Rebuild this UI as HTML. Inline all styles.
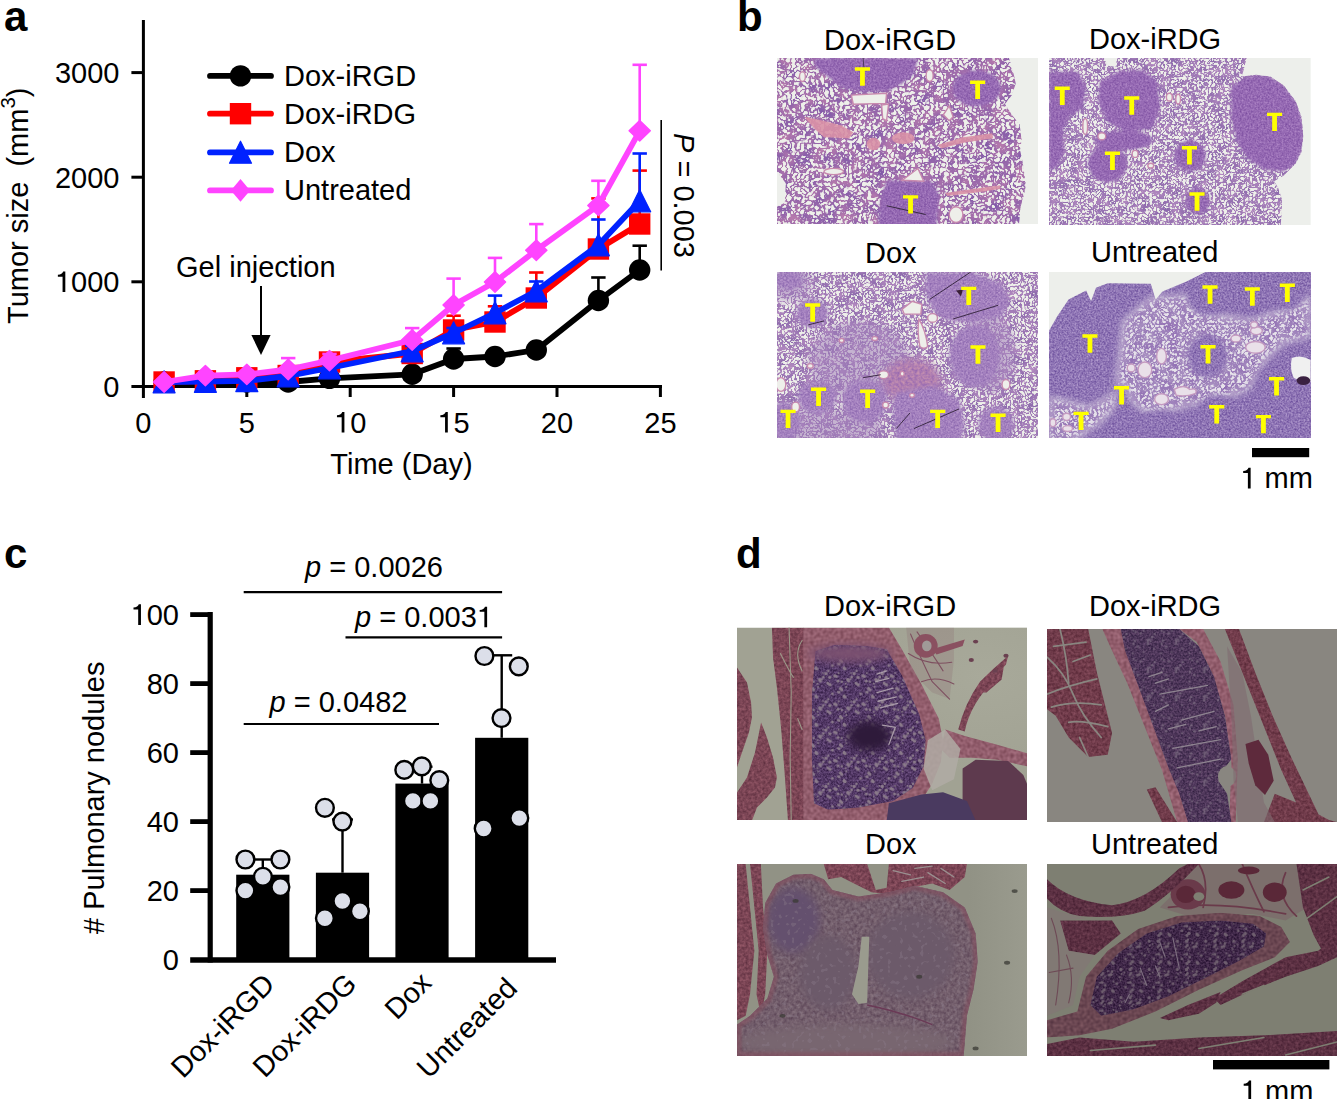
<!DOCTYPE html>
<html><head><meta charset="utf-8"><style>
html,body{margin:0;padding:0;background:#fff;width:1337px;height:1099px;overflow:hidden}
svg{display:block}
.t{font-family:"Liberation Sans", sans-serif;font-size:29px;fill:#000}
.L{font-family:"Liberation Sans", sans-serif;font-size:42px;font-weight:bold;fill:#000}
.h1{fill-opacity:0}
</style></head><body>
<svg width="1337" height="1099" viewBox="0 0 1337 1099">
<defs>
<filter id="alvb" x="0" y="0" width="100%" height="100%" color-interpolation-filters="sRGB">
<feTurbulence type="fractalNoise" baseFrequency="0.0411" numOctaves="2" seed="4" result="n"/>
<feComponentTransfer in="n" result="r"><feFuncR type="table" tableValues="0 0 0 0 0 0 0.15 1 1 1 0.15 0 0 0 0 0 0"/></feComponentTransfer>
<feTurbulence type="fractalNoise" baseFrequency="0.0164" numOctaves="2" seed="15" result="c"/>
<feColorMatrix in="c" type="matrix" values="0.295 0 0 0 0.469 0.178 0 0 0 0.331 0.020 0 0 0 0.661 0 0 0 0 1" result="col"/>
<feColorMatrix in="r" type="matrix" values="0 0 0 0 0 0 0 0 0 0 0 0 0 0 0 1 0 0 0 0" result="al"/>
<feComposite in="col" in2="al" operator="in"/>
</filter>
<filter id="alvb2" x="0" y="0" width="100%" height="100%" color-interpolation-filters="sRGB">
<feTurbulence type="fractalNoise" baseFrequency="0.0528" numOctaves="2" seed="9" result="n"/>
<feComponentTransfer in="n" result="r"><feFuncR type="table" tableValues="0 0 0 0 0 0 0.15 1 1 1 0.15 0 0 0 0 0 0"/></feComponentTransfer>
<feTurbulence type="fractalNoise" baseFrequency="0.0211" numOctaves="2" seed="20" result="c"/>
<feColorMatrix in="c" type="matrix" values="0.238 0 0 0 0.509 0.198 0 0 0 0.380 0.118 0 0 0 0.655 0 0 0 0 1" result="col"/>
<feColorMatrix in="r" type="matrix" values="0 0 0 0 0 0 0 0 0 0 0 0 0 0 0 1 0 0 0 0" result="al"/>
<feComposite in="col" in2="al" operator="in"/>
</filter>
<filter id="alvb4" x="0" y="0" width="100%" height="100%" color-interpolation-filters="sRGB">
<feTurbulence type="fractalNoise" baseFrequency="0.0489" numOctaves="2" seed="2" result="n"/>
<feComponentTransfer in="n" result="r"><feFuncR type="table" tableValues="0 0 0 0 0 0 0.4 1 1 1 0.4 0 0 0 0 0 0"/></feComponentTransfer>
<feTurbulence type="fractalNoise" baseFrequency="0.0196" numOctaves="2" seed="13" result="c"/>
<feColorMatrix in="c" type="matrix" values="0.138 0 0 0 0.547 0.195 0 0 0 0.405 0.078 0 0 0 0.691 0 0 0 0 1" result="col"/>
<feColorMatrix in="r" type="matrix" values="0 0 0 0 0 0 0 0 0 0 0 0 0 0 0 1 0 0 0 0" result="al"/>
<feComposite in="col" in2="al" operator="in"/>
</filter>
<filter id="tumA" x="0" y="0" width="100%" height="100%" color-interpolation-filters="sRGB">
<feTurbulence type="fractalNoise" baseFrequency="0.1076" numOctaves="2" seed="3" result="n"/>
<feColorMatrix in="n" type="matrix" values="0.285 0 0 0 0.444 0.312 0 0 0 0.259 0.215 0 0 0 0.595 0 0 0 0 1"/>
</filter>
<filter id="tumB" x="0" y="0" width="100%" height="100%" color-interpolation-filters="sRGB">
<feTurbulence type="fractalNoise" baseFrequency="0.1076" numOctaves="2" seed="4" result="n"/>
<feColorMatrix in="n" type="matrix" values="0.295 0 0 0 0.491 0.315 0 0 0 0.345 0.195 0 0 0 0.647 0 0 0 0 1"/>
</filter>
<filter id="mixB" x="0" y="0" width="100%" height="100%" color-interpolation-filters="sRGB">
<feTurbulence type="fractalNoise" baseFrequency="0.0685" numOctaves="2" seed="5" result="n"/>
<feColorMatrix in="n" type="matrix" values="0.315 0 0 0 0.532 0.275 0 0 0 0.356 0.000 0 0 0 0.690 0 0 0 0 1"/>
</filter>
<filter id="tumD" x="0" y="0" width="100%" height="100%" color-interpolation-filters="sRGB">
<feTurbulence type="fractalNoise" baseFrequency="0.1076" numOctaves="2" seed="6" result="n"/>
<feColorMatrix in="n" type="matrix" values="0.413 0 0 0 0.354 0.450 0 0 0 0.234 0.295 0 0 0 0.562 0 0 0 0 1"/>
</filter>
<filter id="cartA" x="0" y="0" width="100%" height="100%" color-interpolation-filters="sRGB">
<feTurbulence type="fractalNoise" baseFrequency="0.1085" numOctaves="2" seed="5" result="n"/>
<feColorMatrix in="n" type="matrix" values="0.393 0 0 0 0.125 0.352 0 0 0 0.043 0.410 0 0 0 0.191 0 0 0 0 1"/>
</filter>
<filter id="cartB" x="0" y="0" width="100%" height="100%" color-interpolation-filters="sRGB">
<feTurbulence type="fractalNoise" baseFrequency="0.1085" numOctaves="2" seed="5" result="n"/>
<feColorMatrix in="n" type="matrix" values="0.335 0 0 0 0.135 0.275 0 0 0 0.074 0.295 0 0 0 0.202 0 0 0 0 1"/>
</filter>
<filter id="cartC" x="0" y="0" width="100%" height="100%" color-interpolation-filters="sRGB">
<feTurbulence type="fractalNoise" baseFrequency="0.1085" numOctaves="2" seed="5" result="n"/>
<feColorMatrix in="n" type="matrix" values="0.315 0 0 0 0.085 0.275 0 0 0 0.012 0.293 0 0 0 0.132 0 0 0 0 1"/>
</filter>
<filter id="cdots" x="0" y="0" width="100%" height="100%" color-interpolation-filters="sRGB">
<feTurbulence type="fractalNoise" baseFrequency="0.0521" numOctaves="1" seed="12" result="n"/>
<feColorMatrix in="n" type="matrix" values="0 0 0 0 0.557 0 0 0 0 0.494 0 0 0 0 0.549 14 0 0 0 -8.5"/>
</filter>
<filter id="cdots4" x="0" y="0" width="100%" height="100%" color-interpolation-filters="sRGB">
<feTurbulence type="fractalNoise" baseFrequency="0.0521" numOctaves="1" seed="12" result="n"/>
<feColorMatrix in="n" type="matrix" values="0 0 0 0 0.439 0 0 0 0 0.376 0 0 0 0 0.439 14 0 0 0 -8.5"/>
</filter>
<filter id="musA" x="0" y="0" width="100%" height="100%" color-interpolation-filters="sRGB">
<feTurbulence type="fractalNoise" baseFrequency="0.0759" numOctaves="2" seed="8" result="n"/>
<feColorMatrix in="n" type="matrix" values="0.293 0 0 0 0.336 0.217 0 0 0 0.162 0.215 0 0 0 0.225 0 0 0 0 1"/>
</filter>
<filter id="musB" x="0" y="0" width="100%" height="100%" color-interpolation-filters="sRGB">
<feTurbulence type="fractalNoise" baseFrequency="0.0759" numOctaves="2" seed="8" result="n"/>
<feColorMatrix in="n" type="matrix" values="0.275 0 0 0 0.302 0.218 0 0 0 0.123 0.225 0 0 0 0.179 0 0 0 0 1"/>
</filter>
<filter id="musC" x="0" y="0" width="100%" height="100%" color-interpolation-filters="sRGB">
<feTurbulence type="fractalNoise" baseFrequency="0.0759" numOctaves="2" seed="8" result="n"/>
<feColorMatrix in="n" type="matrix" values="0.255 0 0 0 0.230 0.195 0 0 0 0.090 0.195 0 0 0 0.162 0 0 0 0 1"/>
</filter>
<filter id="pinkA" x="0" y="0" width="100%" height="100%" color-interpolation-filters="sRGB">
<feTurbulence type="fractalNoise" baseFrequency="0.0651" numOctaves="1" seed="9" result="n"/>
<feColorMatrix in="n" type="matrix" values="0.272 0 0 0 0.436 0.255 0 0 0 0.238 0.262 0 0 0 0.294 0 0 0 0 1"/>
</filter>
<filter id="pinkC" x="0" y="0" width="100%" height="100%" color-interpolation-filters="sRGB">
<feTurbulence type="fractalNoise" baseFrequency="0.0651" numOctaves="1" seed="9" result="n"/>
<feColorMatrix in="n" type="matrix" values="0.235 0 0 0 0.298 0.198 0 0 0 0.176 0.178 0 0 0 0.229 0 0 0 0 1"/>
</filter>
<filter id="pinkB" x="0" y="0" width="100%" height="100%" color-interpolation-filters="sRGB">
<feTurbulence type="fractalNoise" baseFrequency="0.0651" numOctaves="2" seed="10" result="n"/>
<feColorMatrix in="n" type="matrix" values="0.235 0 0 0 0.330 0.255 0 0 0 0.238 0.218 0 0 0 0.311 0 0 0 0 1"/>
</filter>
<pattern id="pd1dots" patternUnits="userSpaceOnUse" width="130" height="130"><g fill="#8a7a8a" opacity="1.0"><circle cx="31" cy="71" r="5.5"/><circle cx="79" cy="81" r="4.3"/><circle cx="2" cy="109" r="5.0"/><circle cx="132" cy="109" r="5.0"/><circle cx="30" cy="-1" r="5.9"/><circle cx="30" cy="129" r="5.9"/><circle cx="109" cy="62" r="6.6"/><circle cx="20" cy="83" r="7.5"/><circle cx="68" cy="96" r="6.7"/><circle cx="8" cy="99" r="6.4"/><circle cx="39" cy="4" r="7.5"/><circle cx="39" cy="134" r="7.5"/><circle cx="61" cy="93" r="7.5"/><circle cx="93" cy="120" r="5.6"/><circle cx="104" cy="58" r="7.7"/><circle cx="114" cy="13" r="4.5"/><circle cx="28" cy="-4" r="5.7"/><circle cx="28" cy="126" r="5.7"/><circle cx="81" cy="39" r="6.0"/><circle cx="50" cy="46" r="6.3"/><circle cx="76" cy="118" r="6.7"/><circle cx="121" cy="111" r="8.0"/><circle cx="87" cy="21" r="7.4"/><circle cx="-5" cy="118" r="6.3"/><circle cx="125" cy="118" r="6.3"/><circle cx="93" cy="27" r="7.3"/><circle cx="75" cy="37" r="4.3"/><circle cx="111" cy="-1" r="4.4"/><circle cx="111" cy="129" r="4.4"/><circle cx="104" cy="53" r="4.6"/><circle cx="38" cy="100" r="7.5"/><circle cx="6" cy="80" r="4.2"/></g></pattern>
<pattern id="pd4dots" patternUnits="userSpaceOnUse" width="130" height="130"><g fill="#6e5e6e" opacity="1.0"><circle cx="81" cy="96" r="7.2"/><circle cx="-7" cy="96" r="7.7"/><circle cx="123" cy="96" r="7.7"/><circle cx="4" cy="61" r="7.8"/><circle cx="134" cy="61" r="7.8"/><circle cx="84" cy="117" r="4.5"/><circle cx="61" cy="32" r="6.2"/><circle cx="75" cy="2" r="4.9"/><circle cx="75" cy="132" r="4.9"/><circle cx="36" cy="119" r="7.1"/><circle cx="21" cy="104" r="4.6"/><circle cx="80" cy="16" r="4.0"/><circle cx="113" cy="27" r="4.9"/><circle cx="-2" cy="113" r="5.2"/><circle cx="128" cy="113" r="5.2"/><circle cx="-5" cy="70" r="6.7"/><circle cx="125" cy="70" r="6.7"/><circle cx="27" cy="122" r="6.8"/><circle cx="-4" cy="116" r="5.2"/><circle cx="126" cy="116" r="5.2"/><circle cx="47" cy="22" r="4.6"/><circle cx="8" cy="39" r="6.4"/><circle cx="0" cy="88" r="5.4"/><circle cx="130" cy="88" r="5.4"/><circle cx="40" cy="106" r="5.9"/><circle cx="41" cy="63" r="6.8"/><circle cx="7" cy="-3" r="4.1"/><circle cx="7" cy="127" r="4.1"/><circle cx="97" cy="110" r="4.1"/><circle cx="102" cy="48" r="6.3"/><circle cx="1" cy="6" r="4.7"/><circle cx="131" cy="6" r="4.7"/><circle cx="-6" cy="26" r="7.0"/><circle cx="124" cy="26" r="7.0"/><circle cx="121" cy="122" r="5.4"/><circle cx="46" cy="68" r="7.1"/></g></pattern>
<pattern id="pd2dots" patternUnits="userSpaceOnUse" width="130" height="130"><g fill="#7a6a80" opacity="1.0"><circle cx="42" cy="20" r="5.3"/><circle cx="9" cy="70" r="4.7"/><circle cx="8" cy="66" r="4.1"/><circle cx="56" cy="9" r="4.2"/><circle cx="55" cy="107" r="4.2"/><circle cx="29" cy="82" r="5.9"/><circle cx="75" cy="52" r="6.0"/><circle cx="6" cy="112" r="4.6"/><circle cx="19" cy="15" r="4.6"/><circle cx="106" cy="23" r="5.2"/><circle cx="83" cy="48" r="5.1"/><circle cx="8" cy="8" r="4.4"/><circle cx="88" cy="56" r="4.6"/><circle cx="76" cy="59" r="4.6"/><circle cx="103" cy="91" r="4.5"/><circle cx="75" cy="68" r="5.8"/><circle cx="95" cy="37" r="6.0"/><circle cx="15" cy="54" r="5.5"/></g></pattern>
<filter id="bl4" x="-20%" y="-20%" width="140%" height="140%"><feGaussianBlur stdDeviation="4"/></filter>
<filter id="bl8" x="-20%" y="-20%" width="140%" height="140%"><feGaussianBlur stdDeviation="8"/></filter>
<filter id="bl12" x="-30%" y="-30%" width="160%" height="160%"><feGaussianBlur stdDeviation="12"/></filter>
<filter id="bl20" x="-30%" y="-30%" width="160%" height="160%"><feGaussianBlur stdDeviation="20"/></filter>
</defs>
<clipPath id="cb1"><rect x="777" y="58" width="261" height="166"/></clipPath>
<g clip-path="url(#cb1)"><g transform="translate(777,58) scale(0.19569)"><rect x="0" y="0" width="1337" height="900" fill="#edefeb"/><clipPath id="tb1"><polygon points="0,0 1185,0 1205,60 1220,130 1200,190 1165,235 1200,290 1240,340 1250,420 1242,470 1255,530 1265,600 1272,650 1262,700 1245,760 1232,900 0,900 0,760 40,740 45,640 0,580" /></clipPath><g clip-path="url(#tb1)"><rect x="0" y="0" width="1337" height="900" fill="#eef0ea"/><rect x="0" y="0" width="1337" height="900" filter="url(#alvb)"/><polygon points="140,300 230,320 330,345 390,380 370,410 240,405 190,360"  fill="#d890a6" opacity="0.9"/><ellipse cx="493" cy="440" rx="35" ry="32"  fill="#d890a6" opacity="0.9"/><ellipse cx="645" cy="410" rx="58" ry="30"  fill="#d890a6" opacity="0.9"/><polygon points="820,445 950,405 1100,385 1105,410 960,432 840,462"  fill="#d890a6" opacity="0.9"/><polygon points="860,690 1000,670 1140,650 1140,670 1000,690 870,705"  fill="#d890a6" opacity="0.9"/><mask id="mb1" maskUnits="userSpaceOnUse" x="-50" y="-50" width="1437" height="1000"><g filter="url(#bl8)" fill="#fff"><polygon points="190,0 720,0 700,80 640,130 560,170 430,175 330,150 250,90 190,40" /><ellipse cx="1020" cy="155" rx="125" ry="92" /><polygon points="560,625 790,630 830,700 810,900 510,900 530,720" /></g></mask><rect width="1337" height="900" filter="url(#tumA)" mask="url(#mb1)"/><polygon points="380,190 560,180 555,232 390,236"  fill="#eeefea" stroke="#c88aae" stroke-width="7"/><polygon points="640,625 720,565 750,630"  fill="#eeefea" stroke="#c88aae" stroke-width="7"/><ellipse cx="290" cy="580" rx="50" ry="16"  fill="#eeefea" stroke="#c88aae" stroke-width="7"/><polygon points="850,290 880,245 900,300 880,320"  fill="#eeefea" stroke="#c88aae" stroke-width="7"/><polygon points="535,240 570,235 560,320 540,310"  fill="#eeefea" stroke="#c88aae" stroke-width="7"/><ellipse cx="780" cy="90" rx="18" ry="30"  fill="#eeefea" stroke="#c88aae" stroke-width="7"/><ellipse cx="915" cy="800" rx="35" ry="40"  fill="#eeefea" stroke="#c88aae" stroke-width="7"/><ellipse cx="130" cy="95" rx="15" ry="25"  fill="#eeefea" stroke="#c88aae" stroke-width="7"/></g><path d="M560,755 L760,800" stroke="#3a2a44" stroke-width="6" fill="none"/><path d="M440,0 L445,60" stroke="#3a2a44" stroke-width="4" fill="none"/></g></g>
<clipPath id="cb2"><rect x="1049" y="58" width="262" height="167"/></clipPath>
<g clip-path="url(#cb2)"><g transform="translate(1049,58) scale(0.19569)"><rect x="0" y="0" width="1337" height="900" fill="#edefeb"/><clipPath id="tb2"><polygon points="0,0 280,0 300,40 345,45 345,0 1010,0 995,60 985,95 1060,85 1130,95 1200,140 1260,220 1290,300 1300,400 1290,480 1260,540 1230,570 1200,600 1150,630 1170,660 1190,720 1190,780 1180,900 0,900" /></clipPath><g clip-path="url(#tb2)"><rect x="0" y="0" width="1337" height="900" fill="#eef0ea"/><rect x="0" y="0" width="1337" height="900" filter="url(#alvb2)"/><mask id="mb2" maskUnits="userSpaceOnUse" x="-50" y="-50" width="1437" height="1000"><g filter="url(#bl8)" fill="#fff"><polygon points="0,70 150,70 190,150 170,260 100,300 70,380 80,480 40,560 0,580" /><polygon points="260,120 350,70 470,60 550,110 570,250 530,360 400,380 300,330 250,220" /><ellipse cx="300" cy="540" rx="100" ry="95" /><ellipse cx="720" cy="500" rx="80" ry="80" /><ellipse cx="760" cy="730" rx="60" ry="70" /><polygon points="930,150 1000,100 1060,85 1130,95 1200,140 1260,220 1290,300 1300,400 1290,480 1260,540 1200,580 1100,570 1020,520 960,430 930,300" /><ellipse cx="380" cy="420" rx="150" ry="50" /></g></mask><rect width="1337" height="900" filter="url(#tumA)" mask="url(#mb2)"/><ellipse cx="270" cy="400" rx="20" ry="18"  fill="#eeefea" stroke="#c88aae" stroke-width="7"/><ellipse cx="440" cy="490" rx="15" ry="18"  fill="#eeefea" stroke="#c88aae" stroke-width="7"/><ellipse cx="185" cy="350" rx="12" ry="40"  fill="#eeefea" stroke="#c88aae" stroke-width="7"/><ellipse cx="615" cy="200" rx="15" ry="20"  fill="#eeefea" stroke="#c88aae" stroke-width="7"/><ellipse cx="660" cy="210" rx="12" ry="25"  fill="#eeefea" stroke="#c88aae" stroke-width="7"/><ellipse cx="520" cy="550" rx="15" ry="12"  fill="#eeefea" stroke="#c88aae" stroke-width="7"/></g></g></g>
<clipPath id="cb3"><rect x="777" y="272" width="261" height="166"/></clipPath>
<g clip-path="url(#cb3)"><g transform="translate(777,272) scale(0.19569)"><rect x="0" y="0" width="1337" height="900" fill="#eef0ea"/><rect x="0" y="0" width="1337" height="900" filter="url(#alvb2)"/><mask id="mb3h" maskUnits="userSpaceOnUse" x="-50" y="-50" width="1437" height="1000"><g filter="url(#bl20)" fill="#fff"><ellipse cx="420" cy="450" rx="260" ry="200" /><ellipse cx="60" cy="60" rx="120" ry="90" /><ellipse cx="1100" cy="420" rx="120" ry="200" /><ellipse cx="250" cy="800" rx="300" ry="100" /></g></mask><rect width="1337" height="900" fill="#a482bc" mask="url(#mb3h)" opacity="0.55"/><mask id="mb3p" maskUnits="userSpaceOnUse" x="-50" y="-50" width="1437" height="1000"><g filter="url(#bl20)" fill="#fff"><ellipse cx="690" cy="560" rx="150" ry="120" /></g></mask><rect width="1337" height="900" filter="url(#mixB)" mask="url(#mb3p)"/><mask id="mb3" maskUnits="userSpaceOnUse" x="-50" y="-50" width="1437" height="1000"><g filter="url(#bl12)" fill="#fff"><polygon points="760,0 1000,0 1150,60 1190,150 1150,230 1000,260 880,250 800,200 760,120" /><ellipse cx="1010" cy="430" rx="130" ry="160" /><ellipse cx="180" cy="210" rx="80" ry="75" /><ellipse cx="205" cy="640" rx="100" ry="85" /><ellipse cx="450" cy="660" rx="115" ry="110" /><ellipse cx="40" cy="760" rx="80" ry="100" /><polygon points="600,620 800,580 930,650 960,780 930,900 620,900 590,740" /><ellipse cx="1120" cy="780" rx="90" ry="90" /><ellipse cx="60" cy="40" rx="70" ry="50" /></g></mask><rect width="1337" height="900" filter="url(#tumB)" mask="url(#mb3)"/><polygon points="640,190 690,150 740,165 735,215 650,215"  fill="#eeefea" stroke="#c88aae" stroke-width="7"/><path d="M725,240 Q760,300 770,380 Q750,400 730,380 Q715,300 725,240Z"  fill="#eeefea" stroke="#c88aae" stroke-width="7"/><ellipse cx="795" cy="235" rx="25" ry="22"  fill="#eeefea" stroke="#c88aae" stroke-width="7"/><ellipse cx="20" cy="575" rx="25" ry="35"  fill="#eeefea" stroke="#c88aae" stroke-width="7"/><ellipse cx="1170" cy="575" rx="20" ry="25"  fill="#eeefea" stroke="#c88aae" stroke-width="7"/><ellipse cx="545" cy="525" rx="25" ry="20"  fill="#eeefea" stroke="#c88aae" stroke-width="7"/><ellipse cx="95" cy="690" rx="20" ry="25"  fill="#eeefea" stroke="#c88aae" stroke-width="7"/><ellipse cx="555" cy="680" rx="15" ry="15"  fill="#eeefea" stroke="#c88aae" stroke-width="7"/><ellipse cx="690" cy="630" rx="12" ry="10"  fill="#eeefea" stroke="#c88aae" stroke-width="7"/><ellipse cx="640" cy="520" rx="10" ry="12"  fill="#eeefea" stroke="#c88aae" stroke-width="7"/><ellipse cx="170" cy="480" rx="15" ry="12"  fill="#eeefea" stroke="#c88aae" stroke-width="7"/><ellipse cx="330" cy="350" rx="12" ry="10"  fill="#eeefea" stroke="#c88aae" stroke-width="7"/><ellipse cx="500" cy="340" rx="14" ry="10"  fill="#eeefea" stroke="#c88aae" stroke-width="7"/><path d="M780,140 L990,0" stroke="#3a2a44" stroke-width="5" fill="none"/><path d="M900,240 L1130,170" stroke="#3a2a44" stroke-width="5" fill="none"/><path d="M610,800 L680,720" stroke="#3a2a44" stroke-width="5" fill="none"/><path d="M700,800 L930,700" stroke="#3a2a44" stroke-width="5" fill="none"/><path d="M440,540 L530,525" stroke="#3a2a44" stroke-width="5" fill="none"/><path d="M160,270 L240,250" stroke="#3a2a44" stroke-width="5" fill="none"/><polygon points="915,95 950,90 940,125" fill="#3a2036"/></g></g>
<clipPath id="cb4"><rect x="1049" y="272" width="262" height="166"/></clipPath>
<g clip-path="url(#cb4)"><g transform="translate(1049,272) scale(0.19569)"><rect x="0" y="0" width="1337" height="900" filter="url(#tumD)"/><mask id="mb4l" maskUnits="userSpaceOnUse" x="-50" y="-50" width="1437" height="1000"><g filter="url(#bl20)" fill="#fff"><polygon points="380,250 520,130 700,120 760,200 1000,240 1150,210 1250,180 1337,120 1337,330 1200,360 1100,460 1060,560 980,620 850,650 650,700 500,720 420,660 380,560 300,640 200,690 100,660 0,640 0,900 60,900 250,780 330,700" /></g></mask><rect width="1337" height="900" fill="#e6e2ea" mask="url(#mb4l)"/><mask id="mb4a" maskUnits="userSpaceOnUse" x="-50" y="-50" width="1437" height="1000"><g filter="url(#bl20)"><polygon points="380,250 520,130 700,120 760,200 1000,240 1150,210 1250,180 1337,120 1337,330 1200,360 1100,460 1060,560 980,620 850,650 650,700 500,720 420,660 380,560 300,640 200,690 100,660 0,640 0,900 60,900 250,780 330,700" fill="#fff"/></g></mask><rect width="1337" height="900" filter="url(#alvb4)" mask="url(#mb4a)"/><mask id="mb4t" maskUnits="userSpaceOnUse" x="-50" y="-50" width="1437" height="1000"><g filter="url(#bl12)" fill="#fff"><ellipse cx="820" cy="130" rx="110" ry="90" /><ellipse cx="1040" cy="130" rx="90" ry="90" /><ellipse cx="1215" cy="110" rx="80" ry="80" /><ellipse cx="810" cy="430" rx="100" ry="110" /><ellipse cx="1160" cy="590" rx="110" ry="120" /><ellipse cx="860" cy="740" rx="110" ry="110" /><ellipse cx="1090" cy="780" rx="90" ry="80" /><ellipse cx="560" cy="790" rx="120" ry="80" /></g></mask><rect width="1337" height="900" filter="url(#tumD)" mask="url(#mb4t)"/><polygon points="0,0 800,0 700,50 580,100 545,140 520,60 300,58 240,80 215,150 190,95 100,140 40,230 0,300" fill="#edefeb"/><path d="M1240,440 Q1290,420 1337,450 L1337,560 Q1290,560 1250,540 Q1230,500 1240,440Z" fill="#f0f0f0"/><ellipse cx="1300" cy="555" rx="35" ry="22" fill="#3a2040"/><ellipse cx="490" cy="500" rx="35" ry="40"  fill="#e9e0e9" stroke="#c49ac0" stroke-width="7"/><ellipse cx="575" cy="430" rx="25" ry="40"  fill="#e9e0e9" stroke="#c49ac0" stroke-width="7"/><ellipse cx="575" cy="650" rx="35" ry="28"  fill="#e9e0e9" stroke="#c49ac0" stroke-width="7"/><path d="M640,600 Q690,570 720,600 Q760,590 750,620 Q700,640 650,630Z"  fill="#e9e0e9" stroke="#c49ac0" stroke-width="7"/><ellipse cx="1055" cy="385" rx="50" ry="30"  fill="#e9e0e9" stroke="#c49ac0" stroke-width="7"/><ellipse cx="1060" cy="300" rx="30" ry="20"  fill="#e9e0e9" stroke="#c49ac0" stroke-width="7"/><ellipse cx="1048" cy="270" rx="18" ry="16"  fill="#e9e0e9" stroke="#c49ac0" stroke-width="7"/><ellipse cx="955" cy="340" rx="25" ry="18"  fill="#e9e0e9" stroke="#c49ac0" stroke-width="7"/><ellipse cx="420" cy="490" rx="20" ry="20"  fill="#e9e0e9" stroke="#c49ac0" stroke-width="7"/><ellipse cx="90" cy="740" rx="20" ry="18"  fill="#e9e0e9" stroke="#c49ac0" stroke-width="7"/><ellipse cx="95" cy="800" rx="25" ry="15"  fill="#e9e0e9" stroke="#c49ac0" stroke-width="7"/><ellipse cx="20" cy="770" rx="15" ry="20"  fill="#e9e0e9" stroke="#c49ac0" stroke-width="7"/></g></g>
<clipPath id="cd1x"><rect x="737" y="627.5" width="290" height="192.5"/></clipPath>
<g clip-path="url(#cd1x)"><g transform="translate(737,627.5) scale(0.21692)"><rect x="0" y="0" width="1337" height="900" fill="#a1a293"/><radialGradient id="gd1" cx="0.85" cy="0.25" r="0.5"><stop offset="0" stop-color="#a8a99a"/><stop offset="1" stop-color="#a8a99a" stop-opacity="0"/></radialGradient><rect x="0" y="0" width="1337" height="900" fill="url(#gd1)"/><clipPath id="md1"><polygon points="0,184 46,254 65,346 69,415 55,484 23,576 0,645" /><polygon points="111,438 138,507 166,599 184,692 175,738 138,784 92,830 69,890 0,890 0,761 46,692 83,576" /><polygon points="161,0 309,0 309,890 235,890 221,692 203,461 184,277 166,138" /><path d="M1020,470 Q1050,350 1120,250 Q1180,190 1250,130 L1240,170 Q1160,260 1100,350 Q1060,420 1050,480Z" /><polygon points="1130,300 1230,180 1220,240 1150,300" /></clipPath><g clip-path="url(#md1)"><rect width="1337" height="900" filter="url(#musA)"/></g><path d="M240,0 L250,300 L245,600 L250,890" stroke="#9a9888" stroke-width="5" fill="none" stroke-linecap="round"/><path d="M200,120 Q240,200 260,230" stroke="#9a9888" stroke-width="5" fill="none" stroke-linecap="round"/><path d="M280,420 L300,470" stroke="#9a9888" stroke-width="5" fill="none" stroke-linecap="round"/><path d="M300,60 Q260,120 300,200" stroke="#9a9888" stroke-width="5" fill="none" stroke-linecap="round"/><clipPath id="pd1"><polygon points="305,0 700,0 760,100 850,260 930,420 950,520 940,620 900,720 830,830 780,890 305,890" /><polygon points="960,470 1050,500 1200,540 1337,580 1337,640 1200,610 1080,600 980,600 940,560" /></clipPath><g clip-path="url(#pd1)"><rect width="1337" height="900" filter="url(#pinkA)"/></g><clipPath id="cd1"><path d="M362,110 L450,80 L600,85 L690,100 L760,220 L840,400 L870,520 L860,640 L810,740 L720,800 L560,830 L420,840 L355,810 L345,600 L346,300Z" /></clipPath><g clip-path="url(#cd1)"><rect width="1337" height="900" filter="url(#cartA)"/><rect width="1337" height="900" fill="url(#pd1dots)" opacity="1.0"/></g><mask id="md1c" maskUnits="userSpaceOnUse" x="-50" y="-50" width="1437" height="1000"><g filter="url(#bl20)" fill="#fff"><ellipse cx="610" cy="500" rx="100" ry="70" /></g></mask><rect width="1337" height="900" fill="#2e1a3a" mask="url(#md1c)"/><mask id="md1t" maskUnits="userSpaceOnUse" x="-50" y="-50" width="1437" height="1000"><g filter="url(#bl20)" fill="#fff"><ellipse cx="520" cy="120" rx="190" ry="40" /></g></mask><rect width="1337" height="900" fill="#7a5070" mask="url(#md1t)"/><path d="M645,215 L690,200" stroke="#a89aa8" stroke-width="6" fill="none" stroke-linecap="round"/><path d="M640,250 L700,235" stroke="#a89aa8" stroke-width="6" fill="none" stroke-linecap="round"/><path d="M645,300 L720,280" stroke="#a89aa8" stroke-width="6" fill="none" stroke-linecap="round"/><path d="M650,340 L735,320" stroke="#a89aa8" stroke-width="6" fill="none" stroke-linecap="round"/><path d="M660,370 L740,350" stroke="#a89aa8" stroke-width="6" fill="none" stroke-linecap="round"/><path d="M670,450 L730,460 L700,540" stroke="#a89aa8" stroke-width="6" fill="none" stroke-linecap="round"/><polygon points="780,0 1000,0 1000,150 980,330 900,300 800,200"  fill="#8e7478" opacity="0.3"/><path d="M800,30 Q850,150 900,250 Q950,300 980,330" stroke="#7e5060" stroke-width="5" fill="none" stroke-linecap="round"/><path d="M830,20 Q900,120 950,200" stroke="#7e5060" stroke-width="5" fill="none" stroke-linecap="round"/><path d="M790,120 Q880,180 990,160" stroke="#7e5060" stroke-width="5" fill="none" stroke-linecap="round"/><path d="M850,250 Q920,220 1000,260" stroke="#7e5060" stroke-width="5" fill="none" stroke-linecap="round"/><ellipse cx="870" cy="85" rx="55" ry="55"  fill="#8a5060" /><ellipse cx="875" cy="85" rx="22" ry="25"  fill="#a09a98" /><path d="M900,100 L1050,55 L1040,85 L920,125Z"  fill="#8a5060" /><ellipse cx="1100" cy="65" rx="12" ry="9" fill="#6a4050"/><ellipse cx="1080" cy="150" rx="12" ry="9" fill="#6a4050"/><ellipse cx="1240" cy="130" rx="12" ry="9" fill="#6a4050"/><ellipse cx="1190" cy="200" rx="12" ry="9" fill="#6a4050"/><polygon points="1040,650 1100,610 1250,615 1320,680 1337,720 1337,890 1080,890 1040,800"  fill="#5e3a4e" /><polygon points="700,810 850,770 950,760 1060,800 1100,890 690,890"  fill="#4a3a60" /><polygon points="880,520 960,470 1030,560 1000,700 900,750 860,650"  fill="#b0aca4" opacity="0.85"/></g></g>
<clipPath id="cd2x"><rect x="1047" y="629" width="290" height="193"/></clipPath>
<g clip-path="url(#cd2x)"><g transform="translate(1047,629) scale(0.21692)"><rect x="0" y="0" width="1337" height="900" fill="#898680"/><clipPath id="md2"><polygon points="0,0 190,0 230,200 300,480 280,580 190,590 100,500 40,400 0,370" /><polygon points="820,0 885,0 960,200 1040,400 1130,600 1250,850 1260,890 1190,890 1080,650 1000,450 920,250" /><polygon points="460,740 500,730 600,890 530,890" /><polygon points="1050,760 1150,800 1300,880 1337,890 1000,890" /></clipPath><g clip-path="url(#md2)"><rect width="1337" height="900" filter="url(#musB)"/></g><path d="M0,130 Q80,200 120,300 Q160,400 250,500" stroke="#898680" stroke-width="8" fill="none" stroke-linecap="round"/><path d="M60,0 Q90,120 100,250" stroke="#898680" stroke-width="8" fill="none" stroke-linecap="round"/><path d="M0,300 Q100,260 230,230" stroke="#898680" stroke-width="8" fill="none" stroke-linecap="round"/><path d="M20,360 Q120,330 250,350" stroke="#898680" stroke-width="8" fill="none" stroke-linecap="round"/><path d="M100,430 Q160,420 280,450" stroke="#898680" stroke-width="8" fill="none" stroke-linecap="round"/><path d="M150,500 L190,590" stroke="#898680" stroke-width="8" fill="none" stroke-linecap="round"/><path d="M30,80 L180,60" stroke="#898680" stroke-width="8" fill="none" stroke-linecap="round"/><path d="M120,150 L200,120" stroke="#898680" stroke-width="8" fill="none" stroke-linecap="round"/><clipPath id="pd2"><polygon points="255,0 340,0 420,200 500,400 580,600 660,890 600,890 530,650 450,450 370,250 300,100" /><polygon points="610,0 720,0 800,150 860,350 880,600 870,890 840,890 850,620 820,400 760,200 690,60" /></clipPath><g clip-path="url(#pd2)"><rect width="1337" height="900" filter="url(#pinkA)"/></g><clipPath id="cd2"><path d="M340,0 L610,0 L700,80 L770,220 L820,400 L850,600 L820,640 L790,700 L830,760 L850,890 L650,890 L610,760 L560,640 L490,450 L420,260 L360,100Z" /></clipPath><g clip-path="url(#cd2)"><rect width="1337" height="900" filter="url(#cartB)"/><rect width="1337" height="900" fill="url(#pd2dots)" opacity="0.8"/></g><path d="M470,220 L530,200" stroke="#8e8490" stroke-width="6" fill="none" stroke-linecap="round"/><path d="M500,250 L560,230" stroke="#8e8490" stroke-width="6" fill="none" stroke-linecap="round"/><path d="M520,300 L740,260" stroke="#8e8490" stroke-width="6" fill="none" stroke-linecap="round"/><path d="M620,420 L770,380" stroke="#8e8490" stroke-width="6" fill="none" stroke-linecap="round"/><path d="M500,380 L560,350" stroke="#8e8490" stroke-width="6" fill="none" stroke-linecap="round"/><path d="M700,470 L780,450" stroke="#8e8490" stroke-width="6" fill="none" stroke-linecap="round"/><path d="M580,550 L800,510" stroke="#8e8490" stroke-width="6" fill="none" stroke-linecap="round"/><path d="M600,640 L800,600" stroke="#8e8490" stroke-width="6" fill="none" stroke-linecap="round"/><path d="M560,460 L640,440" stroke="#8e8490" stroke-width="6" fill="none" stroke-linecap="round"/><ellipse cx="830" cy="680" rx="42" ry="48"  fill="#898680" /><polygon points="830,80 900,200 940,400 970,600 1000,800 1050,890 880,890 860,700 850,400"  fill="#7e6a70" opacity="0.6"/><polygon points="915,530 975,510 1020,580 1045,700 1005,765 960,720 930,620"  fill="#5e2a3c" /></g></g>
<clipPath id="cd3x"><rect x="737" y="864" width="290" height="192"/></clipPath>
<g clip-path="url(#cd3x)"><g transform="translate(737,864) scale(0.21692)"><rect x="0" y="0" width="1337" height="900" fill="#919285"/><linearGradient id="gd3" x1="0" x2="1" y1="0" y2="0"><stop offset="0.8" stop-color="#919285"/><stop offset="1" stop-color="#9a9b8e"/></linearGradient><rect x="0" y="0" width="1337" height="900" fill="url(#gd3)"/><clipPath id="md3"><polygon points="0,0 40,0 60,200 80,400 60,600 40,700 0,720" /><polygon points="60,0 110,0 120,200 140,400 130,600 110,700 90,600 100,400 80,200" /><polygon points="400,0 1060,0 1050,60 980,120 900,90 800,110 700,140 620,130 560,100 480,60 420,70" /></clipPath><g clip-path="url(#md3)"><rect width="1337" height="900" filter="url(#musA)"/></g><polygon points="600,0 700,0 690,110 640,120"  fill="#919285" /><path d="M720,30 L800,50" stroke="#9a9090" stroke-width="6" fill="none" stroke-linecap="round"/><path d="M760,80 L860,60" stroke="#9a9090" stroke-width="6" fill="none" stroke-linecap="round"/><path d="M880,40 L960,90" stroke="#9a9090" stroke-width="6" fill="none" stroke-linecap="round"/><path d="M940,20 L1000,60" stroke="#9a9090" stroke-width="6" fill="none" stroke-linecap="round"/><path d="M820,20 L900,10" stroke="#9a9090" stroke-width="6" fill="none" stroke-linecap="round"/><clipPath id="cm3"><path d="M120,300 L130,180 L180,90 L260,50 L340,45 L400,70 L440,120 L560,150 L700,130 L820,100 L950,130 L1050,200 L1100,320 L1110,450 L1090,580 L1060,700 L1045,885 L0,885 L0,740 L60,700 L140,620 L170,520 L140,420Z" /></clipPath><g clip-path="url(#cm3)"><rect width="1337" height="900" filter="url(#pinkB)"/><mask id="md3a" maskUnits="userSpaceOnUse" x="-50" y="-50" width="1437" height="1000"><g filter="url(#bl20)" fill="#fff"><ellipse cx="260" cy="260" rx="120" ry="150" /></g></mask><rect width="1337" height="900" fill="#64506e" mask="url(#md3a)"/><mask id="md3b" maskUnits="userSpaceOnUse" x="-50" y="-50" width="1437" height="1000"><g filter="url(#bl20)" fill="#fff"><ellipse cx="420" cy="500" rx="130" ry="170" /><ellipse cx="800" cy="420" rx="200" ry="200" /></g></mask><rect width="1337" height="900" fill="#6c5a6a" mask="url(#md3b)"/><mask id="md3c" maskUnits="userSpaceOnUse" x="-50" y="-50" width="1437" height="1000"><g filter="url(#bl20)" fill="#fff"><ellipse cx="500" cy="820" rx="500" ry="80" /></g></mask><rect width="1337" height="900" fill="#786670" mask="url(#md3c)"/><rect width="1337" height="900" filter="url(#cdots)" opacity="0.35"/><path d="M120,300 L130,180 L180,90 L260,50 L340,45 L400,70 L440,120 L560,150 L700,130 L820,100 L950,130 L1050,200 L1100,320 L1110,450 L1090,580 L1060,700 L1045,885 L0,885 L0,740 L60,700 L140,620 L170,520 L140,420Z"  fill="none" stroke="#84505e" stroke-width="40" opacity="0.6" filter="url(#bl8)"/></g><polygon points="575,335 610,335 605,480 600,640 560,645 530,600 560,470"  fill="#9a9b8e" /><path d="M600,650 Q750,680 900,740" stroke="#6a3a56" stroke-width="6" fill="none"/><ellipse cx="1280" cy="125" rx="14" ry="9" fill="#3a3a34" opacity="0.75"/><ellipse cx="1245" cy="455" rx="14" ry="9" fill="#3a3a34" opacity="0.75"/><ellipse cx="1100" cy="850" rx="14" ry="9" fill="#3a3a34" opacity="0.75"/><ellipse cx="840" cy="520" rx="14" ry="9" fill="#3a3a34" opacity="0.75"/><ellipse cx="210" cy="700" rx="14" ry="9" fill="#3a3a34" opacity="0.75"/><ellipse cx="270" cy="170" rx="14" ry="9" fill="#3a3a34" opacity="0.75"/></g></g>
<clipPath id="cd4x"><rect x="1047" y="864" width="290" height="192"/></clipPath>
<g clip-path="url(#cd4x)"><g transform="translate(1047,864) scale(0.21692)"><rect x="0" y="0" width="1337" height="900" fill="#7e7f72"/><polygon points="640,0 1200,0 1200,200 1100,260 950,230 800,230 650,240 520,200 600,120"  fill="#7a5e66" opacity="0.45"/><path d="M560,200 Q800,170 1100,230" stroke="#6a3a4a" stroke-width="8" fill="none" stroke-linecap="round"/><path d="M700,0 Q750,80 720,200" stroke="#6a3a4a" stroke-width="8" fill="none" stroke-linecap="round"/><path d="M900,0 Q950,120 1000,220" stroke="#6a3a4a" stroke-width="8" fill="none" stroke-linecap="round"/><path d="M1100,40 Q1050,150 1150,240" stroke="#6a3a4a" stroke-width="8" fill="none" stroke-linecap="round"/><ellipse cx="650" cy="140" rx="80" ry="70"  fill="#6a3a4a" /><ellipse cx="640" cy="140" rx="45" ry="40"  fill="#5a2838" /><ellipse cx="700" cy="150" rx="25" ry="20"  fill="#7e7f72" /><ellipse cx="850" cy="120" rx="60" ry="40"  fill="#5a2838" /><ellipse cx="1050" cy="130" rx="55" ry="45"  fill="#5a2838" /><ellipse cx="930" cy="30" rx="50" ry="18"  fill="#5a2838" /><clipPath id="md4"><path d="M0,70 Q100,170 300,190 Q450,175 610,20 L650,0 L700,0 Q560,150 450,215 Q330,255 150,240 Q60,225 0,160Z" /><polygon points="1150,0 1337,0 1337,400 1280,420 1230,330 1180,200" /><polygon points="60,260 300,260 340,320 220,420 100,400" /><polygon points="520,710 650,650 800,590 780,640 700,690 560,720" /><polygon points="770,620 900,540 1100,430 1250,400 1337,330 1337,430 1250,470 1100,520 950,580 800,650" /><polygon points="0,830 150,800 400,820 700,800 1000,790 1337,770 1337,885 0,885" /></clipPath><g clip-path="url(#md4)"><rect width="1337" height="900" filter="url(#musC)"/></g><path d="M200,860 L500,835" stroke="#7e7f72" stroke-width="7" fill="none" stroke-linecap="round"/><path d="M700,850 L1000,800" stroke="#7e7f72" stroke-width="7" fill="none" stroke-linecap="round"/><path d="M1100,880 L1337,820" stroke="#7e7f72" stroke-width="7" fill="none" stroke-linecap="round"/><path d="M1200,250 L1337,150" stroke="#7e7f72" stroke-width="7" fill="none" stroke-linecap="round"/><path d="M1180,120 L1300,60" stroke="#7e7f72" stroke-width="7" fill="none" stroke-linecap="round"/><path d="M900,600 L1000,560" stroke="#7e7f72" stroke-width="7" fill="none" stroke-linecap="round"/><polygon points="0,200 60,220 180,250 60,260 100,400 220,420 150,520 120,650 0,700"  fill="#837476" opacity="0.6"/><path d="M20,250 Q80,400 40,650" stroke="#6e4a56" stroke-width="5" fill="none" stroke-linecap="round"/><path d="M90,420 Q130,520 100,640" stroke="#6e4a56" stroke-width="5" fill="none" stroke-linecap="round"/><path d="M10,500 L120,480" stroke="#6e4a56" stroke-width="5" fill="none" stroke-linecap="round"/><clipPath id="pd4"><polygon points="140,680 180,520 280,400 420,300 600,240 800,225 980,240 1080,290 1120,360 1050,430 900,490 700,580 500,680 300,760 150,790 0,800 0,720" /></clipPath><g clip-path="url(#pd4)"><rect width="1337" height="900" filter="url(#pinkC)"/></g><clipPath id="cd4"><path d="M200,650 L230,520 L330,410 L460,320 L620,270 L800,260 L950,275 L1010,320 L1000,380 L880,450 L720,530 L560,610 L400,670 L250,700Z" /></clipPath><g clip-path="url(#cd4)"><rect width="1337" height="900" filter="url(#cartC)"/><rect width="1337" height="900" fill="url(#pd4dots)" opacity="1.0"/></g><path d="M520,360 L545,430" stroke="#7e7080" stroke-width="5" fill="none" stroke-linecap="round"/><path d="M580,340 L610,480" stroke="#7e7080" stroke-width="5" fill="none" stroke-linecap="round"/><path d="M430,480 L460,560" stroke="#7e7080" stroke-width="5" fill="none" stroke-linecap="round"/><path d="M360,640 L380,600" stroke="#7e7080" stroke-width="5" fill="none" stroke-linecap="round"/><path d="M500,470 L520,520" stroke="#7e7080" stroke-width="5" fill="none" stroke-linecap="round"/></g></g>
<path d="M854.9,67.3h15.1v3.4h-5.15v15h-4.8v-15h-5.15z" fill="#ffff00"/>
<path d="M970.1,80.5h15.1v3.4h-5.15v15h-4.8v-15h-5.15z" fill="#ffff00"/>
<path d="M903.0,195.2h15.1v3.4h-5.15v15h-4.8v-15h-5.15z" fill="#ffff00"/>
<path d="M1054.7,86.5h15.1v3.4h-5.15v15h-4.8v-15h-5.15z" fill="#ffff00"/>
<path d="M1124.2,96.3h15.1v3.4h-5.15v15h-4.8v-15h-5.15z" fill="#ffff00"/>
<path d="M1104.9,151.5h15.1v3.4h-5.15v15h-4.8v-15h-5.15z" fill="#ffff00"/>
<path d="M1181.9,146.1h15.1v3.4h-5.15v15h-4.8v-15h-5.15z" fill="#ffff00"/>
<path d="M1189.5,192.3h15.1v3.4h-5.15v15h-4.8v-15h-5.15z" fill="#ffff00"/>
<path d="M1267.0,112.7h15.1v3.4h-5.15v15h-4.8v-15h-5.15z" fill="#ffff00"/>
<path d="M805.1,303.3h15.1v3.4h-5.15v15h-4.8v-15h-5.15z" fill="#ffff00"/>
<path d="M961.2,286.7h15.1v3.4h-5.15v15h-4.8v-15h-5.15z" fill="#ffff00"/>
<path d="M970.4,345.3h15.1v3.4h-5.15v15h-4.8v-15h-5.15z" fill="#ffff00"/>
<path d="M811.0,387.5h15.1v3.4h-5.15v15h-4.8v-15h-5.15z" fill="#ffff00"/>
<path d="M860.1,389.5h15.1v3.4h-5.15v15h-4.8v-15h-5.15z" fill="#ffff00"/>
<path d="M780.5,409.7h15.1v3.4h-5.15v15h-4.8v-15h-5.15z" fill="#ffff00"/>
<path d="M930.1,409.7h15.1v3.4h-5.15v15h-4.8v-15h-5.15z" fill="#ffff00"/>
<path d="M990.5,413.6h15.1v3.4h-5.15v15h-4.8v-15h-5.15z" fill="#ffff00"/>
<path d="M1202.5,285.3h15.1v3.4h-5.15v15h-4.8v-15h-5.15z" fill="#ffff00"/>
<path d="M1244.8,287.3h15.1v3.4h-5.15v15h-4.8v-15h-5.15z" fill="#ffff00"/>
<path d="M1279.8,283.6h15.1v3.4h-5.15v15h-4.8v-15h-5.15z" fill="#ffff00"/>
<path d="M1082.4,334.3h15.1v3.4h-5.15v15h-4.8v-15h-5.15z" fill="#ffff00"/>
<path d="M1200.5,345.1h15.1v3.4h-5.15v15h-4.8v-15h-5.15z" fill="#ffff00"/>
<path d="M1114.0,386.0h15.1v3.4h-5.15v15h-4.8v-15h-5.15z" fill="#ffff00"/>
<path d="M1269.0,377.1h15.1v3.4h-5.15v15h-4.8v-15h-5.15z" fill="#ffff00"/>
<path d="M1073.5,411.7h15.1v3.4h-5.15v15h-4.8v-15h-5.15z" fill="#ffff00"/>
<path d="M1209.2,405.1h15.1v3.4h-5.15v15h-4.8v-15h-5.15z" fill="#ffff00"/>
<path d="M1255.9,414.9h15.1v3.4h-5.15v15h-4.8v-15h-5.15z" fill="#ffff00"/>
<line x1="143.4" y1="20" x2="143.4" y2="398" stroke="#000" stroke-width="3"/>
<line x1="131.4" y1="386.4" x2="662" y2="386.4" stroke="#000" stroke-width="3"/>
<line x1="131.4" y1="281.8" x2="143.4" y2="281.8" stroke="#000" stroke-width="3"/>
<line x1="131.4" y1="177.2" x2="143.4" y2="177.2" stroke="#000" stroke-width="3"/>
<line x1="131.4" y1="72.6" x2="143.4" y2="72.6" stroke="#000" stroke-width="3"/>
<line x1="246.8" y1="386.4" x2="246.8" y2="397" stroke="#000" stroke-width="3"/>
<line x1="350.2" y1="386.4" x2="350.2" y2="397" stroke="#000" stroke-width="3"/>
<line x1="453.6" y1="386.4" x2="453.6" y2="397" stroke="#000" stroke-width="3"/>
<line x1="557.0" y1="386.4" x2="557.0" y2="397" stroke="#000" stroke-width="3"/>
<line x1="660.4" y1="386.4" x2="660.4" y2="397" stroke="#000" stroke-width="3"/>
<text x="119.5" y="396.7" text-anchor="end" class="t">0</text>
<text x="119.5" y="292.1" text-anchor="end" class="t"><tspan class="h1">1</tspan>000</text>
<text x="119.5" y="187.5" text-anchor="end" class="t">2000</text>
<text x="119.5" y="82.9" text-anchor="end" class="t">3000</text>
<text x="143.4" y="432.5" text-anchor="middle" class="t">0</text>
<text x="246.8" y="432.5" text-anchor="middle" class="t">5</text>
<text x="350.2" y="432.5" text-anchor="middle" class="t"><tspan class="h1">1</tspan>0</text>
<text x="453.6" y="432.5" text-anchor="middle" class="t"><tspan class="h1">1</tspan>5</text>
<text x="557.0" y="432.5" text-anchor="middle" class="t">20</text>
<text x="660.4" y="432.5" text-anchor="middle" class="t">25</text>
<text x="401.5" y="474" text-anchor="middle" class="t">Time (Day)</text>
<text transform="translate(27.5,324) rotate(-90)" class="t">Tumor size <tspan dx="7">(</tspan>mm<tspan dy="-12.5" font-size="20.5">3</tspan><tspan dy="12.5">)</tspan></text>
<text x="176" y="276.5" class="t">Gel injection</text>
<line x1="261" y1="286" x2="261" y2="340" stroke="#000" stroke-width="2"/>
<polygon points="251.4,335 270.6,335 261,355" fill="#000"/>
<line x1="210" y1="75.9" x2="271" y2="75.9" stroke="#000" stroke-width="5.8" stroke-linecap="round"/>
<circle cx="240.5" cy="75.9" r="10.7" fill="#000"/>
<text x="284" y="85.9" class="t">Dox-iRGD</text>
<line x1="210" y1="113.7" x2="271" y2="113.7" stroke="#ff0000" stroke-width="5.8" stroke-linecap="round"/>
<rect x="229.8" y="103.0" width="21.4" height="21.4" fill="#ff0000"/>
<text x="284" y="124.1" class="t">Dox-iRDG</text>
<line x1="210" y1="152.4" x2="271" y2="152.4" stroke="#0022ff" stroke-width="5.8" stroke-linecap="round"/>
<polygon points="240.5,141.2 251.5,163.2 229.5,163.2" fill="#0022ff" stroke="#0022ff" stroke-width="1.2" stroke-linejoin="round"/>
<text x="284" y="162.3" class="t">Dox</text>
<line x1="210" y1="190.4" x2="271" y2="190.4" stroke="#ff44ff" stroke-width="5.8" stroke-linecap="round"/>
<polygon points="240.5,179.0 250.1,190.4 240.5,201.8 230.9,190.4" fill="#ff44ff"/>
<text x="284" y="200.1" class="t">Untreated</text>
<line x1="661.2" y1="120" x2="661.2" y2="270.5" stroke="#000" stroke-width="1.6"/>
<text transform="translate(673.5,133) rotate(90)" class="t"><tspan font-style="italic">P</tspan> = 0.003</text>
<line x1="329.5" y1="378.4" x2="329.5" y2="376.0" stroke="#000" stroke-width="2.6"/>
<line x1="322.3" y1="376.0" x2="336.7" y2="376.0" stroke="#000" stroke-width="2.6"/>
<line x1="412.2" y1="374.3" x2="412.2" y2="371.0" stroke="#000" stroke-width="2.6"/>
<line x1="405.0" y1="371.0" x2="419.4" y2="371.0" stroke="#000" stroke-width="2.6"/>
<line x1="453.6" y1="359.0" x2="453.6" y2="348.5" stroke="#000" stroke-width="2.6"/>
<line x1="446.4" y1="348.5" x2="460.8" y2="348.5" stroke="#000" stroke-width="2.6"/>
<line x1="495.0" y1="356.5" x2="495.0" y2="353.0" stroke="#000" stroke-width="2.6"/>
<line x1="487.8" y1="353.0" x2="502.2" y2="353.0" stroke="#000" stroke-width="2.6"/>
<line x1="536.3" y1="350.0" x2="536.3" y2="346.0" stroke="#000" stroke-width="2.6"/>
<line x1="529.1" y1="346.0" x2="543.5" y2="346.0" stroke="#000" stroke-width="2.6"/>
<line x1="598.4" y1="300.5" x2="598.4" y2="277.5" stroke="#000" stroke-width="2.6"/>
<line x1="591.2" y1="277.5" x2="605.6" y2="277.5" stroke="#000" stroke-width="2.6"/>
<line x1="639.7" y1="270.0" x2="639.7" y2="245.7" stroke="#000" stroke-width="2.6"/>
<line x1="632.5" y1="245.7" x2="646.9" y2="245.7" stroke="#000" stroke-width="2.6"/>
<polyline points="164.1,382.0 205.4,382.0 246.8,382.0 288.2,382.0 329.5,378.4 412.2,374.3 453.6,359.0 495.0,356.5 536.3,350.0 598.4,300.5 639.7,270.0" fill="none" stroke="#000" stroke-width="5.8" stroke-linejoin="round"/>
<circle cx="164.1" cy="382.0" r="10.7" fill="#000"/>
<circle cx="205.4" cy="382.0" r="10.7" fill="#000"/>
<circle cx="246.8" cy="382.0" r="10.7" fill="#000"/>
<circle cx="288.2" cy="382.0" r="10.7" fill="#000"/>
<circle cx="329.5" cy="378.4" r="10.7" fill="#000"/>
<circle cx="412.2" cy="374.3" r="10.7" fill="#000"/>
<circle cx="453.6" cy="359.0" r="10.7" fill="#000"/>
<circle cx="495.0" cy="356.5" r="10.7" fill="#000"/>
<circle cx="536.3" cy="350.0" r="10.7" fill="#000"/>
<circle cx="598.4" cy="300.5" r="10.7" fill="#000"/>
<circle cx="639.7" cy="270.0" r="10.7" fill="#000"/>
<line x1="205.4" y1="380.8" x2="205.4" y2="377.0" stroke="#ff0000" stroke-width="2.6"/>
<line x1="198.2" y1="377.0" x2="212.6" y2="377.0" stroke="#ff0000" stroke-width="2.6"/>
<line x1="246.8" y1="377.8" x2="246.8" y2="374.0" stroke="#ff0000" stroke-width="2.6"/>
<line x1="239.6" y1="374.0" x2="254.0" y2="374.0" stroke="#ff0000" stroke-width="2.6"/>
<line x1="288.2" y1="375.5" x2="288.2" y2="372.0" stroke="#ff0000" stroke-width="2.6"/>
<line x1="281.0" y1="372.0" x2="295.4" y2="372.0" stroke="#ff0000" stroke-width="2.6"/>
<line x1="329.5" y1="362.0" x2="329.5" y2="356.0" stroke="#ff0000" stroke-width="2.6"/>
<line x1="322.3" y1="356.0" x2="336.7" y2="356.0" stroke="#ff0000" stroke-width="2.6"/>
<line x1="412.2" y1="353.5" x2="412.2" y2="344.0" stroke="#ff0000" stroke-width="2.6"/>
<line x1="405.0" y1="344.0" x2="419.4" y2="344.0" stroke="#ff0000" stroke-width="2.6"/>
<line x1="453.6" y1="330.0" x2="453.6" y2="315.7" stroke="#ff0000" stroke-width="2.6"/>
<line x1="446.4" y1="315.7" x2="460.8" y2="315.7" stroke="#ff0000" stroke-width="2.6"/>
<line x1="495.0" y1="322.0" x2="495.0" y2="306.3" stroke="#ff0000" stroke-width="2.6"/>
<line x1="487.8" y1="306.3" x2="502.2" y2="306.3" stroke="#ff0000" stroke-width="2.6"/>
<line x1="536.3" y1="298.0" x2="536.3" y2="272.5" stroke="#ff0000" stroke-width="2.6"/>
<line x1="529.1" y1="272.5" x2="543.5" y2="272.5" stroke="#ff0000" stroke-width="2.6"/>
<line x1="598.4" y1="249.0" x2="598.4" y2="198.4" stroke="#ff0000" stroke-width="2.6"/>
<line x1="591.2" y1="198.4" x2="605.6" y2="198.4" stroke="#ff0000" stroke-width="2.6"/>
<line x1="639.7" y1="224.0" x2="639.7" y2="170.6" stroke="#ff0000" stroke-width="2.6"/>
<line x1="632.5" y1="170.6" x2="646.9" y2="170.6" stroke="#ff0000" stroke-width="2.6"/>
<polyline points="164.1,382.0 205.4,380.8 246.8,377.8 288.2,375.5 329.5,362.0 412.2,353.5 453.6,330.0 495.0,322.0 536.3,298.0 598.4,249.0 639.7,224.0" fill="none" stroke="#ff0000" stroke-width="5.8" stroke-linejoin="round"/>
<rect x="153.4" y="371.3" width="21.4" height="21.4" fill="#ff0000"/>
<rect x="194.7" y="370.1" width="21.4" height="21.4" fill="#ff0000"/>
<rect x="236.1" y="367.1" width="21.4" height="21.4" fill="#ff0000"/>
<rect x="277.5" y="364.8" width="21.4" height="21.4" fill="#ff0000"/>
<rect x="318.8" y="351.3" width="21.4" height="21.4" fill="#ff0000"/>
<rect x="401.5" y="342.8" width="21.4" height="21.4" fill="#ff0000"/>
<rect x="442.9" y="319.3" width="21.4" height="21.4" fill="#ff0000"/>
<rect x="484.3" y="311.3" width="21.4" height="21.4" fill="#ff0000"/>
<rect x="525.6" y="287.3" width="21.4" height="21.4" fill="#ff0000"/>
<rect x="587.7" y="238.3" width="21.4" height="21.4" fill="#ff0000"/>
<rect x="629.0" y="213.3" width="21.4" height="21.4" fill="#ff0000"/>
<line x1="288.2" y1="376.0" x2="288.2" y2="373.0" stroke="#0022ff" stroke-width="2.6"/>
<line x1="281.0" y1="373.0" x2="295.4" y2="373.0" stroke="#0022ff" stroke-width="2.6"/>
<line x1="329.5" y1="368.0" x2="329.5" y2="365.0" stroke="#0022ff" stroke-width="2.6"/>
<line x1="322.3" y1="365.0" x2="336.7" y2="365.0" stroke="#0022ff" stroke-width="2.6"/>
<line x1="412.2" y1="351.0" x2="412.2" y2="346.0" stroke="#0022ff" stroke-width="2.6"/>
<line x1="405.0" y1="346.0" x2="419.4" y2="346.0" stroke="#0022ff" stroke-width="2.6"/>
<line x1="453.6" y1="333.0" x2="453.6" y2="328.0" stroke="#0022ff" stroke-width="2.6"/>
<line x1="446.4" y1="328.0" x2="460.8" y2="328.0" stroke="#0022ff" stroke-width="2.6"/>
<line x1="495.0" y1="313.0" x2="495.0" y2="295.6" stroke="#0022ff" stroke-width="2.6"/>
<line x1="487.8" y1="295.6" x2="502.2" y2="295.6" stroke="#0022ff" stroke-width="2.6"/>
<line x1="536.3" y1="291.0" x2="536.3" y2="281.5" stroke="#0022ff" stroke-width="2.6"/>
<line x1="529.1" y1="281.5" x2="543.5" y2="281.5" stroke="#0022ff" stroke-width="2.6"/>
<line x1="598.4" y1="245.0" x2="598.4" y2="219.5" stroke="#0022ff" stroke-width="2.6"/>
<line x1="591.2" y1="219.5" x2="605.6" y2="219.5" stroke="#0022ff" stroke-width="2.6"/>
<line x1="639.7" y1="201.0" x2="639.7" y2="153.5" stroke="#0022ff" stroke-width="2.6"/>
<line x1="632.5" y1="153.5" x2="646.9" y2="153.5" stroke="#0022ff" stroke-width="2.6"/>
<polyline points="164.1,382.0 205.4,381.5 246.8,380.8 288.2,376.0 329.5,368.0 412.2,351.0 453.6,333.0 495.0,313.0 536.3,291.0 598.4,245.0 639.7,201.0" fill="none" stroke="#0022ff" stroke-width="5.8" stroke-linejoin="round"/>
<polygon points="164.1,370.8 175.1,392.8 153.1,392.8" fill="#0022ff" stroke="#0022ff" stroke-width="1.2" stroke-linejoin="round"/>
<polygon points="205.4,370.3 216.4,392.3 194.4,392.3" fill="#0022ff" stroke="#0022ff" stroke-width="1.2" stroke-linejoin="round"/>
<polygon points="246.8,369.6 257.8,391.6 235.8,391.6" fill="#0022ff" stroke="#0022ff" stroke-width="1.2" stroke-linejoin="round"/>
<polygon points="288.2,364.8 299.2,386.8 277.2,386.8" fill="#0022ff" stroke="#0022ff" stroke-width="1.2" stroke-linejoin="round"/>
<polygon points="329.5,356.8 340.5,378.8 318.5,378.8" fill="#0022ff" stroke="#0022ff" stroke-width="1.2" stroke-linejoin="round"/>
<polygon points="412.2,339.8 423.2,361.8 401.2,361.8" fill="#0022ff" stroke="#0022ff" stroke-width="1.2" stroke-linejoin="round"/>
<polygon points="453.6,321.8 464.6,343.8 442.6,343.8" fill="#0022ff" stroke="#0022ff" stroke-width="1.2" stroke-linejoin="round"/>
<polygon points="495.0,301.8 506.0,323.8 484.0,323.8" fill="#0022ff" stroke="#0022ff" stroke-width="1.2" stroke-linejoin="round"/>
<polygon points="536.3,279.8 547.3,301.8 525.3,301.8" fill="#0022ff" stroke="#0022ff" stroke-width="1.2" stroke-linejoin="round"/>
<polygon points="598.4,233.8 609.4,255.8 587.4,255.8" fill="#0022ff" stroke="#0022ff" stroke-width="1.2" stroke-linejoin="round"/>
<polygon points="639.7,189.8 650.7,211.8 628.7,211.8" fill="#0022ff" stroke="#0022ff" stroke-width="1.2" stroke-linejoin="round"/>
<line x1="205.4" y1="375.6" x2="205.4" y2="372.0" stroke="#ff44ff" stroke-width="2.6"/>
<line x1="198.2" y1="372.0" x2="212.6" y2="372.0" stroke="#ff44ff" stroke-width="2.6"/>
<line x1="246.8" y1="374.4" x2="246.8" y2="371.0" stroke="#ff44ff" stroke-width="2.6"/>
<line x1="239.6" y1="371.0" x2="254.0" y2="371.0" stroke="#ff44ff" stroke-width="2.6"/>
<line x1="288.2" y1="369.5" x2="288.2" y2="358.1" stroke="#ff44ff" stroke-width="2.6"/>
<line x1="281.0" y1="358.1" x2="295.4" y2="358.1" stroke="#ff44ff" stroke-width="2.6"/>
<line x1="329.5" y1="360.6" x2="329.5" y2="354.0" stroke="#ff44ff" stroke-width="2.6"/>
<line x1="322.3" y1="354.0" x2="336.7" y2="354.0" stroke="#ff44ff" stroke-width="2.6"/>
<line x1="412.2" y1="340.0" x2="412.2" y2="328.1" stroke="#ff44ff" stroke-width="2.6"/>
<line x1="405.0" y1="328.1" x2="419.4" y2="328.1" stroke="#ff44ff" stroke-width="2.6"/>
<line x1="453.6" y1="305.0" x2="453.6" y2="278.6" stroke="#ff44ff" stroke-width="2.6"/>
<line x1="446.4" y1="278.6" x2="460.8" y2="278.6" stroke="#ff44ff" stroke-width="2.6"/>
<line x1="495.0" y1="282.0" x2="495.0" y2="257.9" stroke="#ff44ff" stroke-width="2.6"/>
<line x1="487.8" y1="257.9" x2="502.2" y2="257.9" stroke="#ff44ff" stroke-width="2.6"/>
<line x1="536.3" y1="250.2" x2="536.3" y2="224.1" stroke="#ff44ff" stroke-width="2.6"/>
<line x1="529.1" y1="224.1" x2="543.5" y2="224.1" stroke="#ff44ff" stroke-width="2.6"/>
<line x1="598.4" y1="205.4" x2="598.4" y2="180.8" stroke="#ff44ff" stroke-width="2.6"/>
<line x1="591.2" y1="180.8" x2="605.6" y2="180.8" stroke="#ff44ff" stroke-width="2.6"/>
<line x1="639.7" y1="130.8" x2="639.7" y2="64.8" stroke="#ff44ff" stroke-width="2.6"/>
<line x1="632.5" y1="64.8" x2="646.9" y2="64.8" stroke="#ff44ff" stroke-width="2.6"/>
<polyline points="164.1,382.0 205.4,375.6 246.8,374.4 288.2,369.5 329.5,360.6 412.2,340.0 453.6,305.0 495.0,282.0 536.3,250.2 598.4,205.4 639.7,130.8" fill="none" stroke="#ff44ff" stroke-width="5.8" stroke-linejoin="round"/>
<polygon points="164.1,371.8 174.7,382.0 164.1,392.2 153.5,382.0" fill="#ff44ff" stroke="#ff44ff" stroke-width="1.4" stroke-linejoin="round"/>
<polygon points="205.4,365.4 216.0,375.6 205.4,385.8 194.8,375.6" fill="#ff44ff" stroke="#ff44ff" stroke-width="1.4" stroke-linejoin="round"/>
<polygon points="246.8,364.2 257.4,374.4 246.8,384.6 236.2,374.4" fill="#ff44ff" stroke="#ff44ff" stroke-width="1.4" stroke-linejoin="round"/>
<polygon points="288.2,359.3 298.8,369.5 288.2,379.7 277.6,369.5" fill="#ff44ff" stroke="#ff44ff" stroke-width="1.4" stroke-linejoin="round"/>
<polygon points="329.5,350.4 340.1,360.6 329.5,370.8 318.9,360.6" fill="#ff44ff" stroke="#ff44ff" stroke-width="1.4" stroke-linejoin="round"/>
<polygon points="412.2,329.8 422.8,340.0 412.2,350.2 401.6,340.0" fill="#ff44ff" stroke="#ff44ff" stroke-width="1.4" stroke-linejoin="round"/>
<polygon points="453.6,294.8 464.2,305.0 453.6,315.2 443.0,305.0" fill="#ff44ff" stroke="#ff44ff" stroke-width="1.4" stroke-linejoin="round"/>
<polygon points="495.0,271.8 505.6,282.0 495.0,292.2 484.4,282.0" fill="#ff44ff" stroke="#ff44ff" stroke-width="1.4" stroke-linejoin="round"/>
<polygon points="536.3,240.0 546.9,250.2 536.3,260.4 525.7,250.2" fill="#ff44ff" stroke="#ff44ff" stroke-width="1.4" stroke-linejoin="round"/>
<polygon points="598.4,195.2 609.0,205.4 598.4,215.6 587.8,205.4" fill="#ff44ff" stroke="#ff44ff" stroke-width="1.4" stroke-linejoin="round"/>
<polygon points="639.7,120.6 650.3,130.8 639.7,141.0 629.1,130.8" fill="#ff44ff" stroke="#ff44ff" stroke-width="1.4" stroke-linejoin="round"/>
<line x1="210.2" y1="612" x2="210.2" y2="962.6" stroke="#000" stroke-width="5.2"/>
<line x1="190.2" y1="960" x2="556" y2="960" stroke="#000" stroke-width="5.3"/>
<line x1="190.2" y1="890.6" x2="210.2" y2="890.6" stroke="#000" stroke-width="4.8"/>
<line x1="190.2" y1="821.6" x2="210.2" y2="821.6" stroke="#000" stroke-width="4.8"/>
<line x1="190.2" y1="752.6" x2="210.2" y2="752.6" stroke="#000" stroke-width="4.8"/>
<line x1="190.2" y1="683.6" x2="210.2" y2="683.6" stroke="#000" stroke-width="4.8"/>
<line x1="190.2" y1="614.6" x2="210.2" y2="614.6" stroke="#000" stroke-width="4.8"/>
<text x="179" y="969.9" text-anchor="end" class="t">0</text>
<text x="179" y="900.9" text-anchor="end" class="t">20</text>
<text x="179" y="831.9" text-anchor="end" class="t">40</text>
<text x="179" y="762.9" text-anchor="end" class="t">60</text>
<text x="179" y="693.9" text-anchor="end" class="t">80</text>
<text x="179" y="624.9" text-anchor="end" class="t"><tspan class="h1">1</tspan>00</text>
<text transform="translate(104,934) rotate(-90)" class="t"># Pulmonary nodules</text>
<rect x="236.2" y="874.7" width="53.2" height="85.3" fill="#000"/>
<line x1="262.8" y1="874.7" x2="262.8" y2="859.5" stroke="#000" stroke-width="2.4"/>
<line x1="252.3" y1="859.5" x2="273.3" y2="859.5" stroke="#000" stroke-width="2.4"/>
<circle cx="245.4" cy="859.5" r="8.9" fill="#dcdfe9" stroke="#000" stroke-width="2.4"/>
<circle cx="280.4" cy="859.5" r="8.9" fill="#dcdfe9" stroke="#000" stroke-width="2.4"/>
<circle cx="262.9" cy="876.8" r="8.9" fill="#dcdfe9" stroke="#000" stroke-width="2.4"/>
<circle cx="245.4" cy="890.6" r="8.9" fill="#dcdfe9" stroke="#000" stroke-width="2.4"/>
<circle cx="280.4" cy="887.1" r="8.9" fill="#dcdfe9" stroke="#000" stroke-width="2.4"/>
<rect x="315.9" y="872.7" width="53.2" height="87.3" fill="#000"/>
<line x1="342.5" y1="872.7" x2="342.5" y2="819.5" stroke="#000" stroke-width="2.4"/>
<line x1="332.0" y1="819.5" x2="353.0" y2="819.5" stroke="#000" stroke-width="2.4"/>
<circle cx="324.9" cy="807.8" r="8.9" fill="#dcdfe9" stroke="#000" stroke-width="2.4"/>
<circle cx="342.4" cy="821.6" r="8.9" fill="#dcdfe9" stroke="#000" stroke-width="2.4"/>
<circle cx="342.4" cy="901.0" r="8.9" fill="#dcdfe9" stroke="#000" stroke-width="2.4"/>
<circle cx="324.9" cy="918.2" r="8.9" fill="#dcdfe9" stroke="#000" stroke-width="2.4"/>
<circle cx="359.9" cy="911.3" r="8.9" fill="#dcdfe9" stroke="#000" stroke-width="2.4"/>
<rect x="395.4" y="783.6" width="53.2" height="176.4" fill="#000"/>
<line x1="422.0" y1="783.6" x2="422.0" y2="766.7" stroke="#000" stroke-width="2.4"/>
<line x1="411.5" y1="766.7" x2="432.5" y2="766.7" stroke="#000" stroke-width="2.4"/>
<circle cx="404.3" cy="769.9" r="8.9" fill="#dcdfe9" stroke="#000" stroke-width="2.4"/>
<circle cx="421.8" cy="766.4" r="8.9" fill="#dcdfe9" stroke="#000" stroke-width="2.4"/>
<circle cx="439.3" cy="780.2" r="8.9" fill="#dcdfe9" stroke="#000" stroke-width="2.4"/>
<circle cx="412.9" cy="800.9" r="8.9" fill="#dcdfe9" stroke="#000" stroke-width="2.4"/>
<circle cx="430.4" cy="800.9" r="8.9" fill="#dcdfe9" stroke="#000" stroke-width="2.4"/>
<rect x="475.1" y="737.8" width="53.2" height="222.2" fill="#000"/>
<line x1="501.7" y1="737.8" x2="501.7" y2="655.3" stroke="#000" stroke-width="2.4"/>
<line x1="491.2" y1="655.3" x2="512.2" y2="655.3" stroke="#000" stroke-width="2.4"/>
<circle cx="484.4" cy="656.0" r="8.9" fill="#dcdfe9" stroke="#000" stroke-width="2.4"/>
<circle cx="518.8" cy="666.4" r="8.9" fill="#dcdfe9" stroke="#000" stroke-width="2.4"/>
<circle cx="501.5" cy="718.1" r="8.9" fill="#dcdfe9" stroke="#000" stroke-width="2.4"/>
<circle cx="483.7" cy="828.5" r="8.9" fill="#dcdfe9" stroke="#000" stroke-width="2.4"/>
<circle cx="519.3" cy="818.1" r="8.9" fill="#dcdfe9" stroke="#000" stroke-width="2.4"/>
<line x1="243.7" y1="592.1" x2="502.1" y2="592.1" stroke="#000" stroke-width="2.2"/>
<line x1="345.5" y1="637.4" x2="502.1" y2="637.4" stroke="#000" stroke-width="2.2"/>
<line x1="243.7" y1="724" x2="439" y2="724" stroke="#000" stroke-width="2.2"/>
<text x="305" y="577.2" class="t"><tspan font-style="italic">p</tspan> = 0.0026</text>
<text x="355" y="627.2" class="t"><tspan font-style="italic">p</tspan> = 0.003<tspan class="h1">1</tspan></text>
<text x="269.5" y="711.5" class="t"><tspan font-style="italic">p</tspan> = 0.0482</text>
<text transform="translate(276.4,986) rotate(-45)" text-anchor="end" class="t">Dox-iRGD</text>
<text transform="translate(358.3,985.6) rotate(-45)" text-anchor="end" class="t">Dox-iRDG</text>
<text transform="translate(433.1,984.6) rotate(-45)" text-anchor="end" class="t">Dox</text>
<text transform="translate(518.9,989.8) rotate(-45)" text-anchor="end" class="t">Untreated</text>
<text x="4" y="31" class="L">a</text>
<text x="737" y="31" class="L">b</text>
<text x="4" y="567.5" class="L">c</text>
<text x="736" y="568" class="L">d</text>
<text x="824" y="49.8" class="t">Dox-iRGD</text>
<text x="1089" y="49.1" class="t">Dox-iRDG</text>
<text x="865" y="263.2" class="t">Dox</text>
<text x="1091" y="261.9" class="t">Untreated</text>
<text x="824" y="616" class="t">Dox-iRGD</text>
<text x="1089" y="616" class="t">Dox-iRDG</text>
<text x="865" y="854.3" class="t">Dox</text>
<text x="1091" y="853.5" class="t">Untreated</text>
<rect x="1252" y="448" width="57.2" height="9.2" fill="#000"/>
<text x="1312.8" y="488.4" text-anchor="end" class="t"><tspan class="h1">1</tspan> mm</text>
<rect x="1213" y="1060" width="116.4" height="9.4" fill="#000"/>
<text x="1313.3" y="1101" text-anchor="end" class="t"><tspan class="h1">1</tspan> mm</text>
<g fill="#000"><path d="M62.57,292.10L65.32,292.10L65.32,271.54L63.18,271.54C62.57,273.54 60.91,274.70 57.87,274.79L57.87,276.73L62.57,276.73Z"/><path d="M341.66,432.50L344.41,432.50L344.41,411.94L342.27,411.94C341.66,413.94 340.00,415.10 336.96,415.19L336.96,417.13L341.66,417.13Z"/><path d="M445.06,432.50L447.81,432.50L447.81,411.94L445.67,411.94C445.06,413.94 443.40,415.10 440.36,415.19L440.36,417.13L445.06,417.13Z"/><path d="M138.19,624.90L140.95,624.90L140.95,604.34L138.80,604.34C138.19,606.34 136.54,607.50 133.49,607.59L133.49,609.53L138.19,609.53Z"/><path d="M484.36,627.20L487.12,627.20L487.12,606.64L484.97,606.64C484.36,608.64 482.71,609.80 479.67,609.89L479.67,611.83L484.36,611.83Z"/><path d="M1247.88,488.40L1250.64,488.40L1250.64,467.84L1248.49,467.84C1247.88,469.84 1246.23,471.00 1243.18,471.09L1243.18,473.03L1247.88,473.03Z"/><path d="M1248.38,1101.00L1251.14,1101.00L1251.14,1080.44L1248.99,1080.44C1248.38,1082.44 1246.73,1083.60 1243.68,1083.69L1243.68,1085.63L1248.38,1085.63Z"/></g>
</svg>
</body></html>
